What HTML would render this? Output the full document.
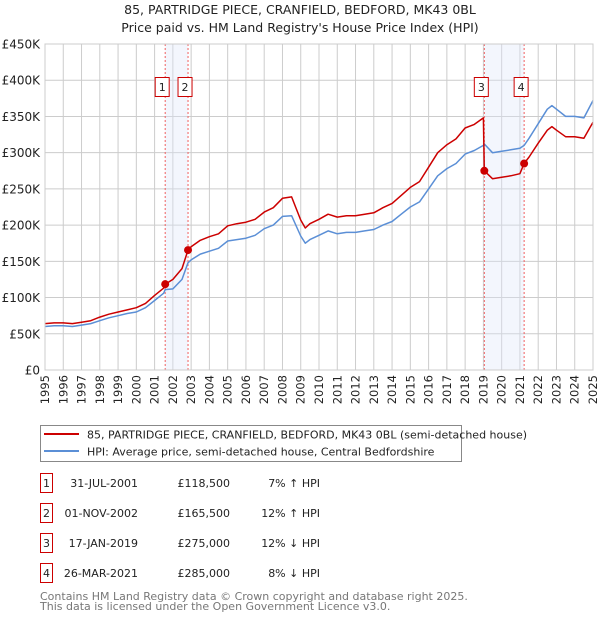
<!DOCTYPE html>
<html><head><meta charset="utf-8"><style>
body{margin:0;background:#fff;font-family:"Liberation Sans","DejaVu Sans",sans-serif;}
svg text{font-family:"DejaVu Sans","Liberation Sans",sans-serif;}
</style></head><body>
<svg id="c" width="600" height="620" xmlns="http://www.w3.org/2000/svg">
<text x="300" y="14" text-anchor="middle" font-size="12.5" fill="#222">85, PARTRIDGE PIECE, CRANFIELD, BEDFORD, MK43 0BL</text>
<text x="300" y="32" text-anchor="middle" font-size="12.5" fill="#222">Price paid vs. HM Land Registry's House Price Index (HPI)</text>
<g id="grid"></g>
<g id="bands"></g>
<g id="series"></g>
<g id="axes"></g>
<g>
<rect x="40.5" y="425.5" width="421" height="36" fill="#fff" stroke="#888"/>
<line x1="44" y1="434" x2="79" y2="434" stroke="#cc0000" stroke-width="2"/>
<text x="87" y="438.5" font-size="11" fill="#222">85, PARTRIDGE PIECE, CRANFIELD, BEDFORD, MK43 0BL (semi-detached house)</text>
<line x1="44" y1="451" x2="79" y2="451" stroke="#5b8fd6" stroke-width="2"/>
<text x="87" y="455.5" font-size="11" fill="#222">HPI: Average price, semi-detached house, Central Bedfordshire</text>
</g>
<g id="table"></g>
<text x="40" y="600" font-size="11" fill="#777">Contains HM Land Registry data © Crown copyright and database right 2025.</text>
<text x="40" y="610" font-size="11" fill="#777">This data is licensed under the Open Government Licence v3.0.</text>
</svg>
<script>
const times=[1995,1995.5,1996,1996.5,1997,1997.5,1998,1998.5,1999,1999.5,2000,2000.5,2001,2001.5,2001.58,2002,2002.5,2002.83,2003,2003.5,2004,2004.5,2005,2005.5,2006,2006.5,2007,2007.5,2008,2008.5,2009,2009.25,2009.5,2010,2010.5,2011,2011.5,2012,2012.5,2013,2013.5,2014,2014.5,2015,2015.5,2016,2016.5,2017,2017.5,2018,2018.5,2019,2019.05,2019.5,2020,2020.5,2021,2021.23,2021.5,2022,2022.5,2022.75,2023,2023.5,2024,2024.5,2025];
const hpiValues=[60,61,61,60,62,64,68,72,75,78,80,86,96,106,111,112,125,148,152,160,164,168,178,180,182,186,195,200,212,213,185,175,180,186,192,188,190,190,192,194,200,205,215,225,232,250,268,278,285,298,303,310,312,300,302,304,306,310,320,340,360,365,360,350,350,348,372];
const priceValues=[64,65,65,64,66,68,73,77,80,83,86,92,103,113,118.5,125,140,165.5,170,179,184,188,199,202,204,208,218,224,237,239,207,196,202,208,215,211,213,213,215,217,224,230,241,252,260,280,300,311,319,334,339,348,275,264,266,268,271,285,294,313,331,336,331,322,322,320,342];
const saleNums=["1","2","3","4"];
const saleTimes=[2001.58,2002.83,2019.05,2021.23];
const salePrices=[118500,165500,275000,285000];
const saleDates=["31-JUL-2001","01-NOV-2002","17-JAN-2019","26-MAR-2021"];
const salePriceLabels=["£118,500","£165,500","£275,000","£285,000"];
const saleHpi=["7% ↑ HPI","12% ↑ HPI","12% ↓ HPI","8% ↓ HPI"];
const yTicks=[0,50,100,150,200,250,300,350,400,450];
const yTickLabels=["£0","£50K","£100K","£150K","£200K","£250K","£300K","£350K","£400K","£450K"];
const xTicks=[1995,1996,1997,1998,1999,2000,2001,2002,2003,2004,2005,2006,2007,2008,2009,2010,2011,2012,2013,2014,2015,2016,2017,2018,2019,2020,2021,2022,2023,2024,2025];

const X0=45,X1=593,Y0=370,Y1=44;
const x=t=>X0+(t-1995)/30*(X1-X0);
const y=v=>Y0-v/450*(Y0-Y1);
const NS="http://www.w3.org/2000/svg";
function mk(p,tag,attrs){const e=document.createElementNS(NS,tag);for(const k in attrs)e.setAttribute(k,attrs[k]);p.appendChild(e);return e;}
const grid=document.getElementById('grid'),bands=document.getElementById('bands'),series=document.getElementById('series'),axes=document.getElementById('axes'),table=document.getElementById('table');
yTicks.forEach((v,i)=>{
 const l=mk(grid,'line',{x1:X0,x2:X1,y1:y(v),y2:y(v),stroke:'#ccc','stroke-width':1});
 
 
 const t=mk(axes,'text',{x:40,y:y(v)+4.5,'text-anchor':'end','font-size':12,fill:'#222'});
 t.textContent=yTickLabels[i];
 
 
});
xTicks.forEach((yr,i)=>{
 const l=mk(grid,'line',{x1:x(yr),x2:x(yr),y1:Y1,y2:Y0,stroke:'#ccc','stroke-width':1});
 
 
 const px=x(yr)+4,py=375;
 const t=mk(axes,'text',{x:px,y:py,'text-anchor':'end','font-size':11.5,fill:'#222',transform:'rotate(-90 '+px+' '+py+')'});
 t.textContent=yr;
 
 
});
const ax=mk(axes,'rect',{x:X0,y:Y1,width:X1-X0,height:Y0-Y1,fill:'none',stroke:'#ccc'});


for(let i=0;i<saleTimes.length;i+=2){
 const r=mk(bands,'rect',{x:x(saleTimes[i]),y:Y1,width:x(saleTimes[i+1])-x(saleTimes[i]),height:Y0-Y1,fill:'#dde6fa','fill-opacity':0.35});
 
 
}
saleTimes.forEach((t,i)=>{
 const l=mk(bands,'line',{x1:x(t),x2:x(t),y1:Y1,y2:Y0,stroke:'#f06060','stroke-dasharray':'2,2','stroke-width':1});
 
 
});
function path(vals,color,name){
 const d=times.map((t,i)=>(i?'L':'M')+x(t).toFixed(1)+','+y(vals[i]).toFixed(1)).join('');
 const p=mk(series,'path',{d:d,fill:'none',stroke:color,'stroke-width':1.5,'stroke-linejoin':'round'});
 
 
}
path(hpiValues,'#5b8fd6','hpi-line');
path(priceValues,'#cc0000','price-paid-line');
saleTimes.forEach((t,i)=>{
 const c=mk(series,'circle',{cx:x(t),cy:y(salePrices[i]/1000),r:4,fill:'#cc0000'});
 
 
 const bx=x(t)-10;
 const r=mk(series,'rect',{x:bx,y:77.5,width:14,height:19,fill:'#fff',stroke:'#cc0000'});
 
 
 const tx=mk(series,'text',{x:bx+7,y:91,'text-anchor':'middle','font-size':11,fill:'#222'});
 tx.textContent=saleNums[i];
 
 
});
saleNums.forEach((n,i)=>{
 const cy=483+i*30;
 const r=mk(table,'rect',{x:40.5,y:cy-9.5,width:12,height:19,fill:'#fff',stroke:'#cc0000'});
 
 
 const cells=[[46.5,'middle',n],[138,'end',saleDates[i]],[230,'end',salePriceLabels[i]],[320,'end',saleHpi[i]]];
 cells.forEach((c,j)=>{
  const t=mk(table,'text',{x:c[0],y:cy+4,'text-anchor':c[1],'font-size':11,fill:'#222'});
  t.textContent=c[2];
  
  
 });
});
</script>
</body></html>
